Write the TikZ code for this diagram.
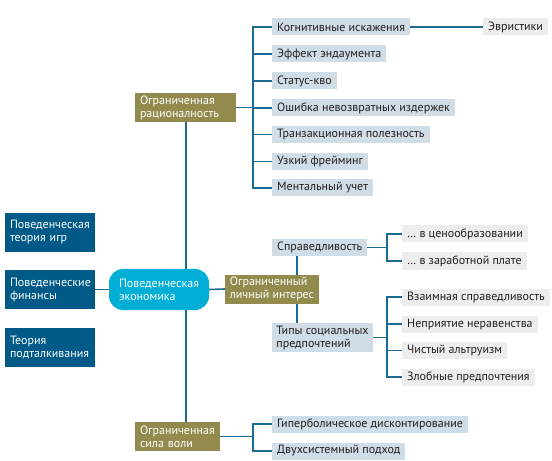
\documentclass[tikz,border=0pt]{standalone}
\usepackage{fontspec}
\setmainfont{PT Sans}
\usetikzlibrary{backgrounds}

\definecolor{linkblue}{HTML}{1A6A93}
\definecolor{topicolive}{HTML}{938A4E}
\definecolor{leafblue}{HTML}{D0DCE6}
\definecolor{leafgray}{HTML}{EDEDED}
\definecolor{sideblue}{HTML}{005A87}
\definecolor{corecyan}{HTML}{00AED6}
\definecolor{textgray}{HTML}{231F20}

\tikzset{
  every node/.style={font=\fontsize{12bp}{13bp}\selectfont},
  leaf/.style={fill=leafblue, text=textgray, anchor=west, minimum height=17bp,
    inner xsep=5bp, inner ysep=0pt},
  greyleaf/.style={leaf, fill=leafgray},
  topic/.style={fill=topicolive, text=white, align=left, inner xsep=5bp,
    inner ysep=1pt, minimum height=29bp},
  side/.style={fill=sideblue, text=white, align=left, inner xsep=5bp,
    inner ysep=1pt, text width=80bp, minimum height=39bp},
  link/.style={draw=linkblue, line width=1.6bp},
}

\begin{document}
\begin{tikzpicture}[x=1bp, y=-1bp]
\useasboundingbox (0,0) rectangle (552,461);

% centre and side boxes
\node[fill=corecyan, text=white, rounded corners=14bp, align=left, minimum width=100bp,
  inner ysep=1pt, minimum height=41bp] (eco) at (159,289.5) {Поведенческая\\экономика};
\node[side] (game) at (50,232.5) {Поведенческая\\теория игр};
\node[side] (fin) at (50,289.5) {Поведенческие\\финансы};
\node[side] (nudge) at (50,347.5) {Теория\\подталкивания};

% main branches
\node[topic, text width=91bp] (br) at (185.5,107.5) {Ограниченная\\рационалность};
\node[topic, inner xsep=3bp, minimum width=94bp] (si) at (272,289) {Ограниченный\\личный интерес};
\node[topic, text width=75bp] (bw) at (177.5,436.5) {Ограниченная\\сила воли};

% bounded rationality
\node[leaf] (kog) at (272,27) {Когнитивные искажения};
\node[leaf] (endo) at (272,54) {Эффект эндаумента};
\node[leaf] (quo) at (272,81) {Статус-кво};
\node[leaf] (sunk) at (272,108) {Ошибка невозвратных издержек};
\node[leaf] (trans) at (272,134.5) {Транзакционная полезность};
\node[leaf] (frame) at (272,161.5) {Узкий фрейминг};
\node[leaf] (ment) at (272,188) {Ментальный учет};
\node[greyleaf] (heur) at (483,27) {Эвристики};

% bounded self-interest
\node[leaf] (fair) at (272,247.5) {Справедливость};
\node[greyleaf] (price) at (402,234) {\dots\ в ценообразовании};
\node[greyleaf] (wage) at (402,261) {\dots\ в заработной плате};
\node[fill=leafblue, text=textgray, align=left, minimum width=101bp, inner xsep=3bp,
  inner ysep=1pt, minimum height=29bp] (types) at (322.5,337.5) {Типы социальных\\предпочтений};
\node[greyleaf] (recip) at (402,297) {Взаимная справедливость};
\node[greyleaf] (ineq) at (402,324) {Неприятие неравенства};
\node[greyleaf] (altr) at (402,350.5) {Чистый альтруизм};
\node[greyleaf] (spite) at (402,377) {Злобные предпочтения};

% bounded willpower
\node[leaf] (hyp) at (272,424) {Гиперболическое дисконтирование};
\node[leaf] (dual) at (272,451) {Двухсистемный подход};

\begin{pgfonlayer}{background}
\coordinate (sp) at (186,0);
\coordinate (fv) at (297,0);
\draw[link] (br.south -| sp) -- (bw.north -| sp);
\draw[link] (fair.south -| fv) -- (types.north -| fv);
\end{pgfonlayer}

\draw[link] (fin.east) -- (eco.west);
\draw[link] (eco.east) -- (si.west);
\draw[link] (kog.east) -- (heur.west);

% brackets
\coordinate (bj) at (253,0);
\coordinate (fj) at (387,0);
\draw[link] (br.east) -- (br.east -| bj);
\foreach \n in {kog,endo,quo,sunk,trans,frame,ment}
  \draw[link] (br.east -| bj) |- (\n.west);
\draw[link] (bw.east) -- (bw.east -| bj);
\foreach \n in {hyp,dual}
  \draw[link] (bw.east -| bj) |- (\n.west);
\draw[link] (fair.east) -- (fair.east -| fj);
\foreach \n in {price,wage}
  \draw[link] (fair.east -| fj) |- (\n.west);
\draw[link] (types.east) -- (types.east -| fj);
\foreach \n in {recip,ineq,altr,spite}
  \draw[link] (types.east -| fj) |- (\n.west);
\end{tikzpicture}
\end{document}
